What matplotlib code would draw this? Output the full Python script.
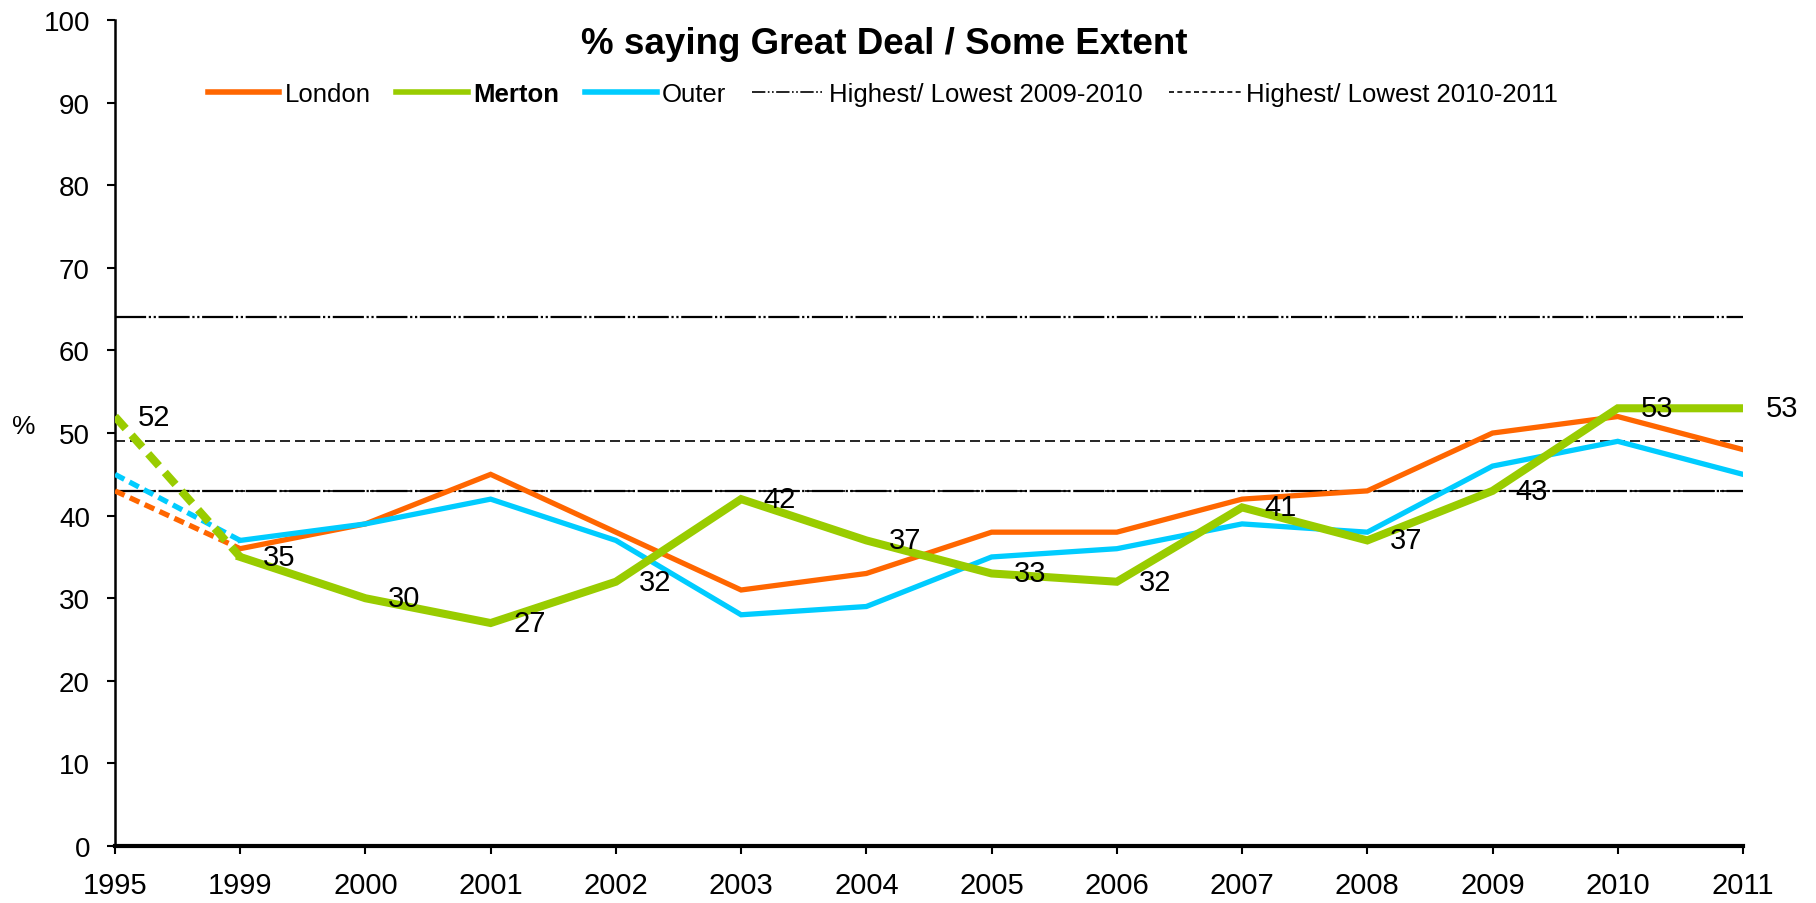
import numpy as np
import matplotlib.pyplot as plt
from matplotlib.lines import Line2D

plt.rcParams['font.family'] = ['Liberation Sans', 'DejaVu Sans']

years = ['1995', '1999', '2000', '2001', '2002', '2003', '2004', '2005',
         '2006', '2007', '2008', '2009', '2010', '2011']
london = [43, 36, 39, 45, 38, 31, 33, 38, 38, 42, 43, 50, 52, 48]
merton = [52, 35, 30, 27, 32, 42, 37, 33, 32, 41, 37, 43, 53, 53]
outer = [45, 37, 39, 42, 37, 28, 29, 35, 36, 39, 38, 46, 49, 45]
hilo_0910 = [64, 43]
hilo_1011 = [49, 43]

x = np.arange(len(years))

fig = plt.figure(figsize=(18.16, 9.04), dpi=100)
ax = fig.add_axes([0.0633, 0.063, 0.8965, 0.9137])

c_lon, c_mer, c_out = '#ff6600', '#99cc00', '#00ccff'
dashdot2 = (0, (14, 1.2, 1, 1.2, 1, 1.2))

# reference lines
for v in hilo_0910:
    ax.axhline(v, color='black', lw=1.6, ls=dashdot2, zorder=1)
for v in hilo_1011:
    ax.axhline(v, color='black', lw=1.2, ls=(0, (6, 3)), zorder=1)

# series: dashed gap 1995-1999, solid afterwards
for vals, col, lw in [(london, c_lon, 3.8), (outer, c_out, 3.8), (merton, c_mer, 5.8)]:
    ax.plot(x[:2], vals[:2], color=col, lw=lw, ls=(0, (2.0, 1.1)), zorder=3)
    ax.plot(x[1:], vals[1:], color=col, lw=lw, zorder=3, solid_joinstyle='miter')

# Merton value labels, right of each point
for i, v in enumerate(merton):
    ax.text(x[i] + 0.18, v, str(v), fontsize=21, va='center', ha='left',
            clip_on=False, zorder=4)

ax.set_xlim(0, len(years) - 1)
ax.set_ylim(0, 100)
ax.set_xticks(x)
ax.set_xticklabels(years)
ax.set_yticks(range(0, 101, 10))
ax.tick_params(axis='both', direction='out', length=6, width=1.5)
ax.tick_params(axis='x', labelsize=21, pad=12)
ax.tick_params(axis='y', labelsize=20, pad=12)
ax.spines['top'].set_visible(False)
ax.spines['right'].set_visible(False)
ax.spines['left'].set_linewidth(1.8)
ax.spines['bottom'].set_linewidth(3)

ax.set_ylabel('%', fontsize=19, rotation=0, va='center', ha='center')
ax.yaxis.set_label_coords(-0.056, 0.508)

fig.text(0.487, 0.951, '% saying Great Deal / Some Extent', fontsize=26.5,
         fontweight='bold', ha='center', va='center')

handles = [Line2D([], [], color=c_lon, lw=4),
           Line2D([], [], color=c_mer, lw=4),
           Line2D([], [], color=c_out, lw=4),
           Line2D([], [], color='black', lw=1.2, ls=(0, (8, 1.5, 1, 1.5, 1, 1.5))),
           Line2D([], [], color='black', lw=1.2, ls=(0, (3, 2)))]
labels = ['London', 'Merton', 'Outer', 'Highest/ Lowest 2009-2010', 'Highest/ Lowest 2010-2011']
leg = fig.legend(handles, labels, loc='center', bbox_to_anchor=(0.486, 0.895), ncol=5,
                 frameon=False, fontsize=18.5, handlelength=2.8, handletextpad=0.2,
                 columnspacing=1.0)
leg.get_texts()[1].set_fontweight('bold')

fig.savefig('out.png', dpi=100, facecolor='white')
